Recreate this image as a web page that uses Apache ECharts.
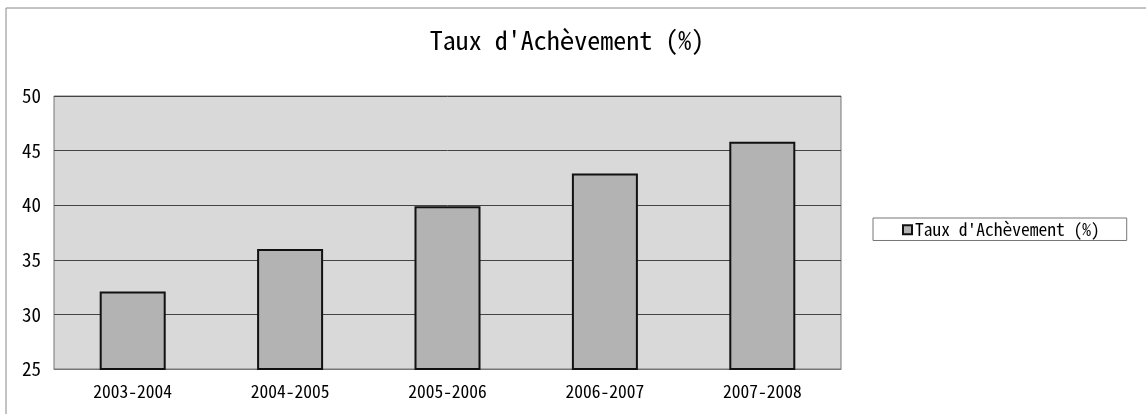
<!DOCTYPE html>
<html>
<head>
<meta charset="utf-8">
<script src="https://cdn.jsdelivr.net/npm/echarts@6/dist/echarts.min.js"></script>
<style>
html,body{margin:0;padding:0;background:#fff;}
#chart{width:1146px;height:414px;}
</style>
</head>
<body>
<div id="chart"></div>
<script>
var titleText = "Taux d'Achèvement (%)";
var seriesName = "Taux d'Achèvement (%)";
var categories = ["2003-2004", "2004-2005", "2005-2006", "2006-2007", "2007-2008"];
var values = [32.1, 36.0, 39.9, 42.9, 45.8];
var yTicks = [25, 30, 35, 40, 45, 50];

var FONT = "'Noto Sans Mono CJK JP', 'DejaVu Sans Mono', monospace";
var chart = echarts.init(document.getElementById('chart'), null, {renderer: 'canvas'});
chart.setOption({
  animation: false,
  backgroundColor: '#ffffff',
  title: {
    text: titleText,
    left: 562,
    textAlign: 'center',
    top: 22,
    textStyle: {fontFamily: FONT, fontSize: 26, fontWeight: 'normal', color: '#000'}
  },
  legend: {
    data: [seriesName],
    left: 873,
    top: 218,
    orient: 'vertical',
    padding: [3, 27, 2, 29],
    borderColor: '#777',
    borderWidth: 1,
    itemWidth: 9,
    itemHeight: 9,
    itemGap: 0,
    icon: 'rect',
    textStyle: {fontFamily: FONT, fontSize: 17.5, color: '#000', padding: [0, 0, 0, -2]}
  },
  graphic: [
    {type: 'line', shape: {x1: 6, y1: 8, x2: 1146, y2: 8}, style: {stroke: '#888', lineWidth: 1}},
    {type: 'line', shape: {x1: 6, y1: 8, x2: 6, y2: 414}, style: {stroke: '#888', lineWidth: 1}}
  ],
  grid: {
    left: 54, right: 305, top: 96, bottom: 45,
    show: true, backgroundColor: '#d9d9d9', borderColor: '#777', borderWidth: 1
  },
  xAxis: {
    type: 'category',
    data: categories,
    axisLine: {show: true, lineStyle: {color: '#777'}},
    axisTick: {show: false},
    axisLabel: {fontFamily: FONT, fontSize: 17.5, color: '#000', margin: 14}
  },
  yAxis: {
    type: 'value',
    min: yTicks[0],
    max: yTicks[yTicks.length - 1],
    interval: 5,
    axisLine: {show: false},
    axisTick: {show: false},
    axisLabel: {fontFamily: FONT, fontSize: 19, color: '#000', margin: 13},
    splitLine: {show: true, lineStyle: {color: '#444', width: 1}}
  },
  series: [{
    name: seriesName,
    type: 'bar',
    data: values,
    barWidth: 66,
    itemStyle: {color: '#b3b3b3', borderColor: '#111', borderWidth: 2}
  }]
});
</script>
</body>
</html>
